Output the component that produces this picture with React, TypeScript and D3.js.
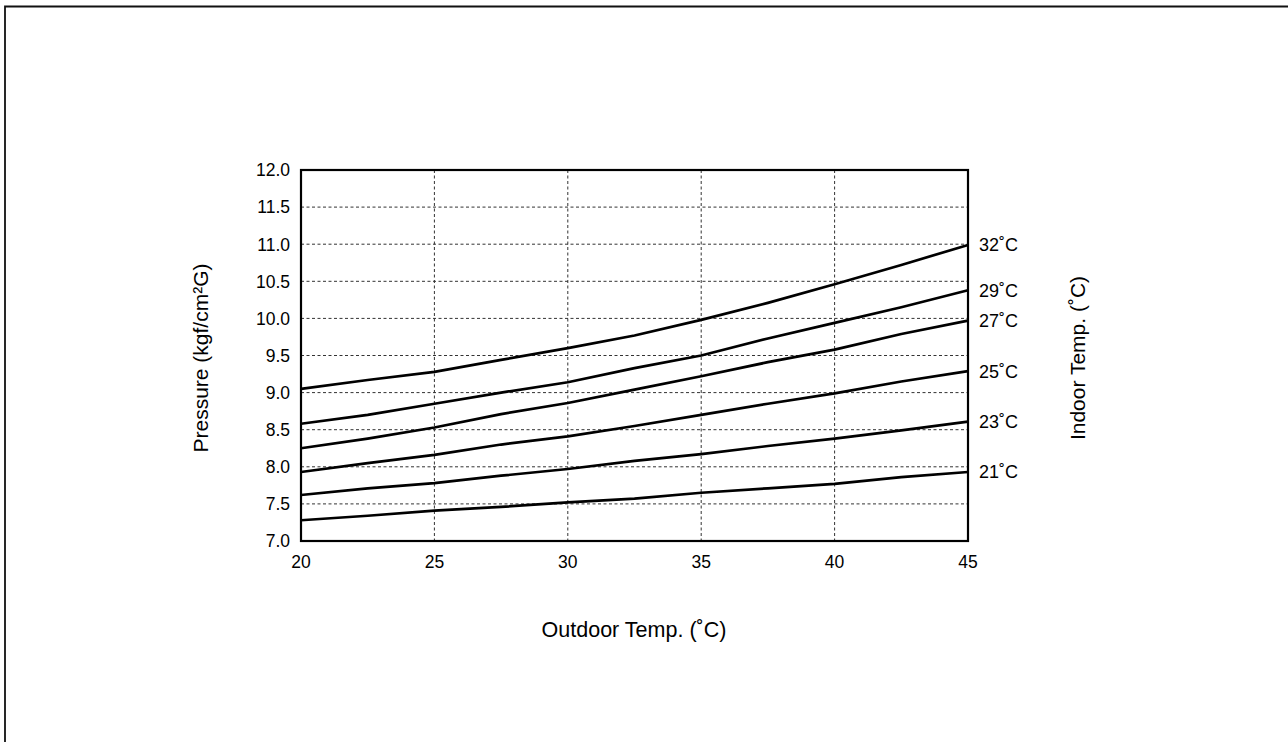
import React, { useRef, useEffect } from 'react'
import * as d3 from 'd3'

// outdoor temperature (°C) sample points
const outdoorTemps = [20, 22.5, 25, 27.5, 30, 32.5, 35, 37.5, 40, 42.5, 45]

// pressure readings (kgf/cm²G) per indoor temperature curve
const indoorLabels = ['32˚C', '29˚C', '27˚C', '25˚C', '23˚C', '21˚C']
const p32 = [9.05, 9.17, 9.28, 9.44, 9.6, 9.77, 9.98, 10.21, 10.46, 10.72, 10.99]
const p29 = [8.58, 8.7, 8.85, 9.0, 9.14, 9.33, 9.5, 9.73, 9.94, 10.15, 10.38]
const p27 = [8.25, 8.38, 8.53, 8.71, 8.86, 9.04, 9.22, 9.41, 9.58, 9.79, 9.97]
const p25 = [7.93, 8.05, 8.16, 8.3, 8.41, 8.55, 8.7, 8.85, 8.99, 9.15, 9.29]
const p23 = [7.62, 7.71, 7.78, 7.88, 7.97, 8.08, 8.17, 8.28, 8.38, 8.49, 8.61]
const p21 = [7.28, 7.34, 7.41, 7.46, 7.52, 7.57, 7.65, 7.71, 7.77, 7.86, 7.93]
const pressureSeries = [p32, p29, p27, p25, p23, p21]

const xTicks = [20, 25, 30, 35, 40, 45]
const yTicks = [7.0, 7.5, 8.0, 8.5, 9.0, 9.5, 10.0, 10.5, 11.0, 11.5, 12.0]

const App = () => {
    const visEl = useRef<SVGSVGElement | null>(null)
    const width = 1288
    const height = 742

    useEffect(() => {
        const svg = d3.select(visEl.current)
        svg.selectAll('*').remove()

        const font = "'Liberation Sans', Arial, Helvetica, sans-serif"
        const left = 301, right = 968, top = 170, bottom = 541

        // page frame (only top & left edges are visible)
        svg.append('path')
            .attr('d', `M5,${height + 10} L5,6.5 L${width + 10},6.5`)
            .attr('fill', 'none')
            .attr('stroke', '#111')
            .attr('stroke-width', 1.8)

        const xScale = d3.scaleLinear().domain([20, 45]).range([left, right])
        const yScale = d3.scaleLinear().domain([7, 12]).range([bottom, top])

        const g = svg.append('g')

        // grid
        g.append('g').selectAll('line')
            .data(yTicks.filter(d => d > 7 && d < 12))
            .enter().append('line')
            .attr('x1', left).attr('x2', right)
            .attr('y1', d => yScale(d)).attr('y2', d => yScale(d))
            .attr('stroke', '#333').attr('stroke-width', 1)
            .attr('stroke-dasharray', '3,2.5')
        g.append('g').selectAll('line')
            .data(xTicks.filter(d => d > 20 && d < 45))
            .enter().append('line')
            .attr('y1', top).attr('y2', bottom)
            .attr('x1', d => xScale(d)).attr('x2', d => xScale(d))
            .attr('stroke', '#333').attr('stroke-width', 1)
            .attr('stroke-dasharray', '3,2.5')

        // curves
        const line = d3.line<number>()
            .x((_, i) => xScale(outdoorTemps[i]))
            .y(d => yScale(d))
        g.append('g').selectAll('path')
            .data(pressureSeries)
            .enter().append('path')
            .attr('d', d => line(d))
            .attr('fill', 'none')
            .attr('stroke', '#000')
            .attr('stroke-width', 2.7)
            .attr('stroke-linejoin', 'round')

        // plot frame
        g.append('rect')
            .attr('x', left).attr('y', top)
            .attr('width', right - left).attr('height', bottom - top)
            .attr('fill', 'none').attr('stroke', '#000').attr('stroke-width', 2.2)

        // y tick labels
        g.append('g').selectAll('text')
            .data(yTicks)
            .enter().append('text')
            .attr('x', left - 11)
            .attr('y', d => yScale(d))
            .attr('dy', '0.36em')
            .attr('text-anchor', 'end')
            .attr('font-family', font).attr('font-size', 17.5)
            .text(d => d3.format('.1f')(d))

        // x tick labels
        g.append('g').selectAll('text')
            .data(xTicks)
            .enter().append('text')
            .attr('x', d => xScale(d))
            .attr('y', bottom + 27)
            .attr('text-anchor', 'middle')
            .attr('font-family', font).attr('font-size', 17.5)
            .text(d => d)

        // curve labels
        g.append('g').selectAll('text')
            .data(pressureSeries)
            .enter().append('text')
            .attr('x', right + 11)
            .attr('y', d => yScale(d[d.length - 1]))
            .attr('dy', '0.36em')
            .attr('font-family', font).attr('font-size', 18)
            .text((_, i) => indoorLabels[i])

        // axis titles
        svg.append('text')
            .attr('x', 634)
            .attr('y', 637)
            .attr('text-anchor', 'middle')
            .attr('font-family', font).attr('font-size', 21.5)
            .text('Outdoor Temp. (˚C)')
        svg.append('text')
            .attr('transform', `translate(208,358) rotate(-90)`)
            .attr('text-anchor', 'middle')
            .attr('font-family', font).attr('font-size', 21)
            .text('Pressure (kgf/cm²G)')
        svg.append('text')
            .attr('transform', `translate(1085,358) rotate(-90)`)
            .attr('text-anchor', 'middle')
            .attr('font-family', font).attr('font-size', 21)
            .text('Indoor Temp. (˚C)')
    }, [])

    return (
        <svg ref={visEl} width={width} height={height}
            style={{ position: 'absolute', left: 0, top: 0, background: '#fff' }} />
    )
}

export default App
